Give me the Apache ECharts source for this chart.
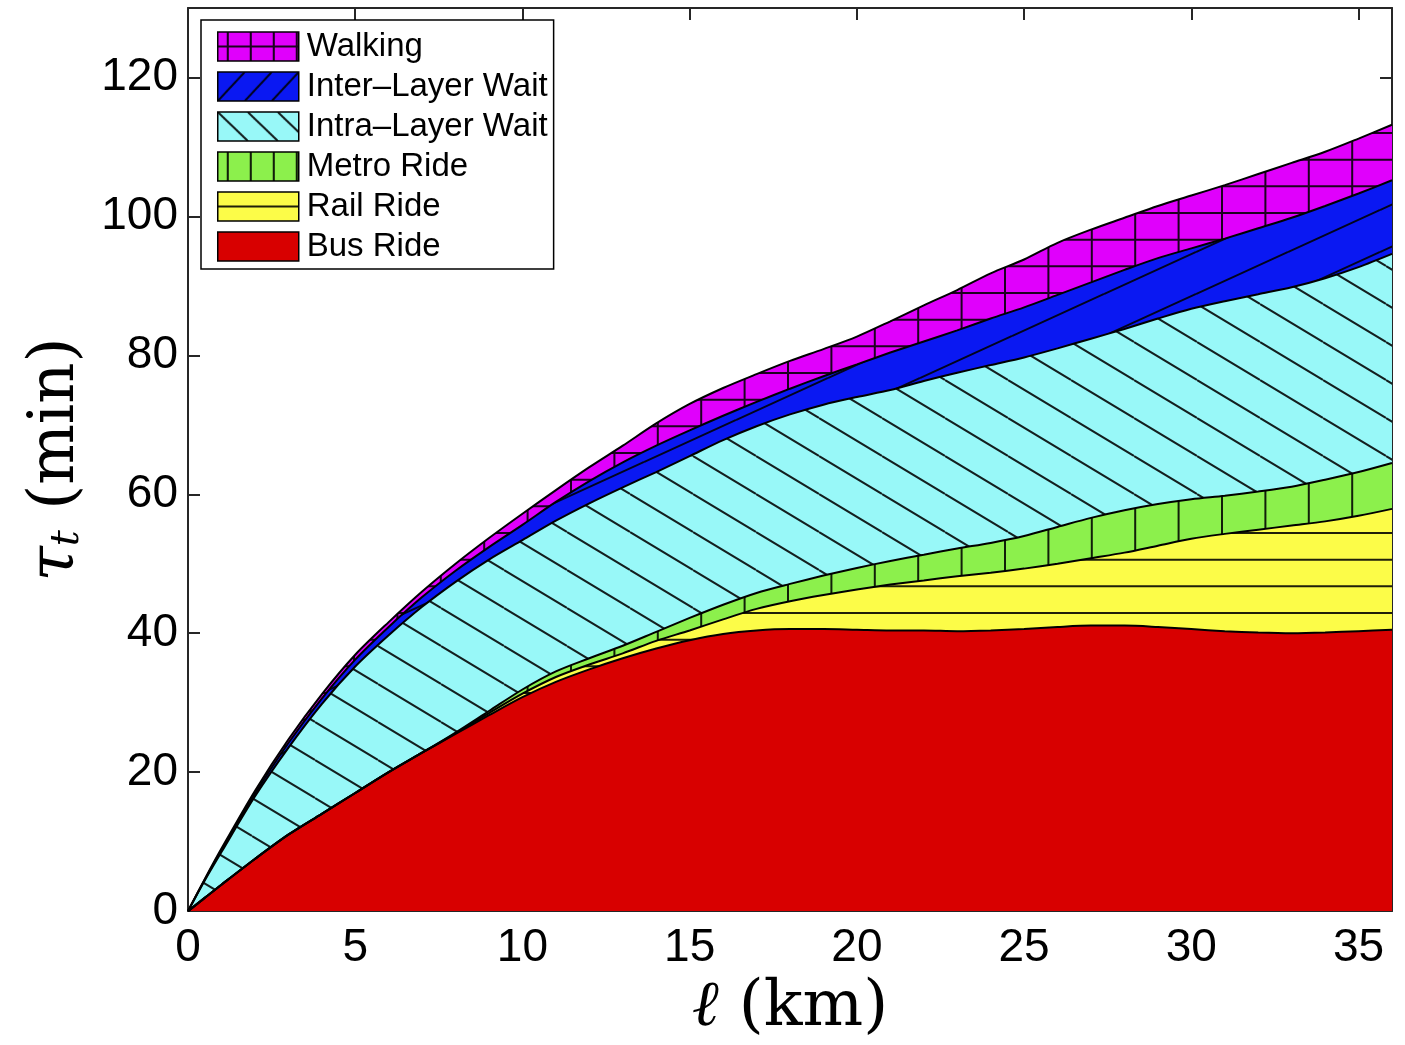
<!DOCTYPE html>
<html><head><meta charset="utf-8">
<script src="https://cdn.jsdelivr.net/npm/echarts@6/dist/echarts.min.js"></script>
<style>html,body{margin:0;padding:0;background:#fff}#chart{width:1405px;height:1045px}</style>
</head><body><div id="chart"></div>
<script>
// ---- data (minutes per component, stacked bottom to top) ----
const distanceKm = [0,0.5,1,2,3,4,5,6,7,8,9,10,11,12,13,14,15,16,17,18,19,20,21,22,23,24,25,26,27,28,29,30,31,32,33,34,35,36];
const busRide = [0,1.9,3.8,7.5,11.0,14.0,17.0,20.0,22.8,25.5,28.2,30.8,33.0,34.8,36.4,37.8,39.0,39.9,40.4,40.6,40.6,40.5,40.4,40.4,40.3,40.4,40.6,40.9,41.1,41.1,40.9,40.6,40.3,40.1,40.0,40.1,40.3,40.5];
const railRide = [0,0,0,0,0,0,0,0,0,0.1,0.3,0.5,0.7,0.7,0.7,1.1,1.4,2.1,3.1,4.0,4.9,5.8,6.6,7.2,7.9,8.3,8.7,9.1,9.7,10.5,11.7,13.0,14.0,14.8,15.5,16.0,16.6,17.4];
const metroRide = [0,0,0,0,0,0,0,0,0,0.1,0.3,0.6,0.8,0.9,1.1,1.3,1.8,2.1,2.3,2.5,2.8,3.1,3.4,3.7,4.0,4.3,4.7,5.3,5.8,6.1,6.0,5.7,5.5,5.5,5.6,6.0,6.3,6.6];
const intraLayerWait = [0,2.5,4.7,9.0,12.5,15.8,18.2,19.7,21.0,21.7,21.8,21.5,21.7,22.3,22.8,23.0,23.3,23.7,24.0,24.4,24.6,24.6,24.6,25.0,25.3,25.6,25.7,25.7,25.8,26.1,26.7,27.4,28.0,28.4,28.7,29.0,29.5,30.1];
const interLayerWait = [0,0.1,0.3,0.4,0.7,0.8,1.0,1.2,1.4,1.6,1.8,2.2,2.7,3.2,3.6,3.8,3.7,3.5,3.5,3.7,4.1,4.7,5.4,5.7,6.1,6.7,7.2,7.7,8.1,8.5,8.7,8.7,9.0,9.5,10.0,10.4,10.6,10.6];
const walking = [0,0.1,0.2,0.4,0.5,0.6,0.7,0.7,0.8,1.0,1.3,1.6,1.7,2.0,2.4,3.2,3.8,4.0,4.0,4.0,3.9,4.0,4.5,5.2,5.8,6.5,6.9,7.5,7.6,7.5,7.5,7.6,7.7,7.8,7.9,7.8,7.9,8.0];
const seriesNames = ['Bus Ride','Rail Ride','Metro Ride','Intra\u2013Layer Wait','Inter\u2013Layer Wait','Walking'];
const legendOrder = ['Walking','Inter\u2013Layer Wait','Intra\u2013Layer Wait','Metro Ride','Rail Ride','Bus Ride'];
const xTickStep = 5;
const yTickStep = 20;
const yTickMaxLabel = 120;

// ---- hatch patterns ----
const fills = {
  'Bus Ride': '#d80000',
  'Rail Ride': '#fcfc48',
  'Metro Ride': '#8cf04c',
  'Intra\u2013Layer Wait': '#98f8f8',
  'Inter\u2013Layer Wait': '#0a18f2',
  'Walking': '#e000fc'
};
function pat(w, h, bg, draw) {
  const c = document.createElement('canvas');
  c.width = w; c.height = h;
  const g = c.getContext('2d');
  g.fillStyle = bg; g.fillRect(0, 0, w, h);
  g.strokeStyle = 'rgba(0,0,0,0.88)'; g.lineWidth = 2;
  g.beginPath(); draw(g, w, h); g.stroke();
  return { image: c, repeat: 'repeat' };
}
function vl(g, h, xs) { xs.forEach(x => { g.moveTo(x, 0); g.lineTo(x, h); }); }
function hl(g, w, ys) { ys.forEach(y => { g.moveTo(0, y); g.lineTo(w, y); }); }
function back(g, w, h) { for (let k = -1; k <= 1; k++) { g.moveTo(0, k * h); g.lineTo(w, (k + 1) * h); } }
function fwd(g, w, h) { for (let k = -1; k <= 1; k++) { g.moveTo(0, (k + 1) * h); g.lineTo(w, k * h); } }

const vGrid = [6.8, 50.2, 93.6, 137, 180.4];
const hGrid = [-0.3, 26.3, 53, 79.7];
const plotFill = {
  'Bus Ride': fills['Bus Ride'],
  'Rail Ride': pat(8, 80, fills['Rail Ride'], (g, w, h) => hl(g, w, hGrid)),
  'Metro Ride': pat(217, 8, fills['Metro Ride'], (g, w, h) => vl(g, h, vGrid)),
  'Intra\u2013Layer Wait': pat(63, 38, fills['Intra\u2013Layer Wait'], back),
  'Inter\u2013Layer Wait': pat(92, 42, fills['Inter\u2013Layer Wait'], fwd),
  'Walking': pat(217, 80, fills['Walking'], (g, w, h) => { vl(g, h, vGrid); hl(g, w, hGrid); })
};
const legendFill = {
  'Bus Ride': fills['Bus Ride'],
  'Rail Ride': pat(8, 29, fills['Rail Ride'], (g, w, h) => hl(g, w, [14.5])),
  'Metro Ride': pat(23, 8, fills['Metro Ride'], (g, w, h) => vl(g, h, [10])),
  'Intra\u2013Layer Wait': pat(30, 29, fills['Intra\u2013Layer Wait'], back),
  'Inter\u2013Layer Wait': pat(27, 29, fills['Inter\u2013Layer Wait'], fwd),
  'Walking': pat(23, 29, fills['Walking'], (g, w, h) => { vl(g, h, [10]); hl(g, w, [14.5]); })
};

// cumulative tops of each layer (explicit stacking), drawn top layer first so lower layers paint over
const values = [busRide, railRide, metroRide, intraLayerWait, interLayerWait, walking];
const cumulative = [];
values.forEach((arr, i) => {
  cumulative.push(arr.map((v, j) => +(v + (i ? cumulative[i - 1][j] : 0)).toFixed(2)));
});
const series = seriesNames.map((name, i) => ({
  name, type: 'line', smooth: 0.3, symbol: 'none', showSymbol: false,
  data: distanceKm.map((x, j) => [x, cumulative[i][j]]),
  lineStyle: { color: '#000', width: 2 },
  itemStyle: { color: fills[name] },
  areaStyle: { color: plotFill[name], opacity: 1, origin: 'start' },
  emphasis: { disabled: true }, silent: true
})).reverse();

const axisCol = '#262626';
const tickFont = { fontFamily: 'Liberation Sans, Arial, sans-serif', fontSize: 46, color: '#000' };
const baseX = { type: 'value', min: 0, max: 36, interval: xTickStep, splitLine: { show: false },
  axisLine: { show: true, onZero: false, lineStyle: { color: axisCol, width: 2 } },
  axisTick: { show: true, inside: true, length: 12, lineStyle: { color: axisCol, width: 2 } } };
const baseY = { type: 'value', min: 0, max: 130, interval: yTickStep, splitLine: { show: false },
  axisLine: { show: true, onZero: false, lineStyle: { color: axisCol, width: 2 } },
  axisTick: { show: true, inside: true, length: 12, lineStyle: { color: axisCol, width: 2 } } };

const chart = echarts.init(document.getElementById('chart'), null, { renderer: 'canvas' });
chart.setOption({
  animation: false,
  backgroundColor: '#fff',
  grid: { left: 188, right: 13, top: 8, bottom: 131, containLabel: false },
  legend: {
    orient: 'vertical', left: 201, top: 20, z: 20,
    padding: [10, 6, 6, 16], itemGap: 7, itemWidth: 81, itemHeight: 29,
    icon: 'rect', selectedMode: false,
    backgroundColor: '#fff', borderColor: '#000', borderWidth: 1.5,
    itemStyle: { borderColor: '#000', borderWidth: 1.5 },
    textStyle: { fontFamily: 'Liberation Sans, Arial, sans-serif', fontSize: 33, lineHeight: 29, color: '#000', padding: [0, 0, 0, 3] },
    data: legendOrder.map(n => ({ name: n, itemStyle: { color: legendFill[n] } }))
  },
  xAxis: [
    Object.assign({}, baseX, {
      position: 'bottom',
      axisLabel: Object.assign({ margin: 14, formatter: v => (v % xTickStep === 0 ? String(v) : '') }, tickFont),
      name: '{a|\u2113}{c| (km)}', nameLocation: 'middle', nameGap: 58,
      nameTextStyle: { rich: {
        a: { fontFamily: 'DejaVu Serif', fontStyle: 'italic', fontSize: 64, color: '#000' },
        c: { fontFamily: 'DejaVu Serif', fontSize: 64, color: '#000' } } }
    }),
    Object.assign({}, baseX, { position: 'top', axisLabel: { show: false } })
  ],
  yAxis: [
    Object.assign({}, baseY, {
      position: 'left',
      axisLabel: Object.assign({ margin: 10, formatter: v => (v % yTickStep === 0 && v <= yTickMaxLabel ? String(v) : '') }, tickFont),
      name: '{a|\u03c4}{b|t}{c| (min)}', nameLocation: 'middle', nameGap: 100, nameRotate: 90,
      nameTextStyle: { rich: {
        a: { fontFamily: 'DejaVu Serif', fontStyle: 'italic', fontSize: 64, color: '#000' },
        b: { fontFamily: 'DejaVu Serif', fontStyle: 'italic', fontSize: 40, color: '#000', verticalAlign: 'bottom', lineHeight: 60 },
        c: { fontFamily: 'DejaVu Serif', fontSize: 64, color: '#000' } } }
    }),
    Object.assign({}, baseY, { position: 'right', axisLabel: { show: false } })
  ],
  series
});
</script></body></html>
